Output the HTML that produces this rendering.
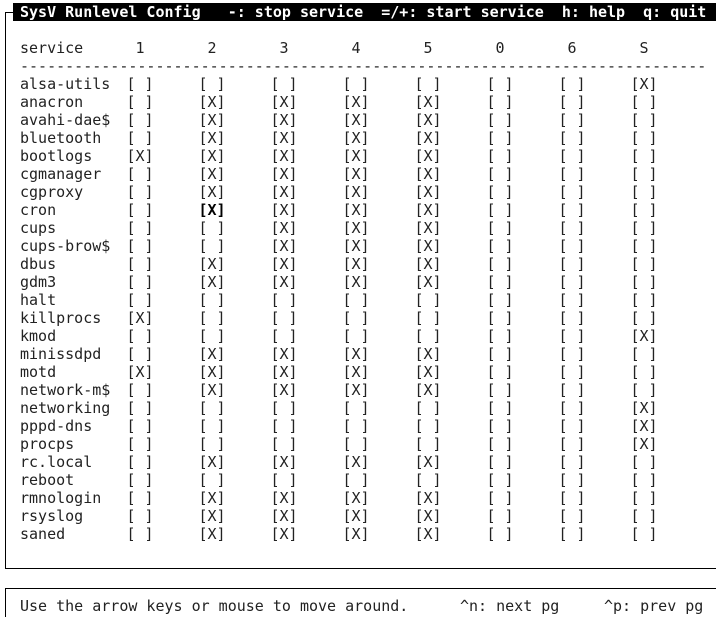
<!DOCTYPE html>
<html><head><meta charset="utf-8">
<style>
html,body{margin:0;padding:0;background:#fff;}
#root{position:relative;width:716px;height:617px;overflow:hidden;background:#fff;font-family:"DejaVu Sans Mono","Liberation Mono",monospace;font-size:15px;color:#222;}
.t{position:absolute;white-space:pre;line-height:18px;height:18px;}
#titlebar{position:absolute;left:13px;top:3px;width:703px;height:18px;background:#000;}
#title{color:#fff;font-weight:bold;left:20px;top:3px;}
#mainbox{position:absolute;left:5px;top:12px;width:720px;height:557px;border:1px solid #000;box-sizing:border-box;}
#footbox{position:absolute;left:5px;top:588px;width:720px;height:40px;border:1px solid #000;box-sizing:border-box;}
</style></head>
<body>
<div id="root">
<div id="mainbox"></div>
<div id="titlebar"></div>
<div class="t" id="title">SysV Runlevel Config   -: stop service  =/+: start service  h: help  q: quit</div>
<div id="footbox"></div>
<div class="t" style="left:20px;top:597px">Use the arrow keys or mouse to move around.</div>
<div class="t" style="left:460px;top:597px">^n: next pg</div>
<div class="t" style="left:604px;top:597px">^p: prev pg</div>
</div>
<script>
const runlevels=["1","2","3","4","5","0","6","S"];
const services=["alsa-utils","anacron","avahi-dae$","bluetooth","bootlogs","cgmanager","cgproxy","cron","cups","cups-brow$","dbus","gdm3","halt","killprocs","kmod","minissdpd","motd","network-m$","networking","pppd-dns","procps","rc.local","reboot","rmnologin","rsyslog","saned"];
const states=[
"00000001","01111000","01111000","01111000","11111000","01111000","01111000","01111000",
"00111000","00111000","01111000","01111000","00000000","10000000","00000001","01111000",
"11111000","01111000","00000001","00000001","00000001","01111000","00000000","01111000",
"01111000","01111000"];
const cursorRow=7, cursorCol=1;
const root=document.getElementById('root');
function colX(i){return 140+i*72;}
function rowY(r){return 75+r*18;}
function add(txt,left,top,name,inter,bold){
  const d=document.createElement('div');
  d.className='t';
  d.textContent=txt;
  d.style.left=left+'px';d.style.top=top+'px';
  if(bold){d.style.fontWeight='bold';d.style.color='#000';}
  
  
  root.appendChild(d);
  return d;
}
add('service',20,39,'service-header','false');
runlevels.forEach((r,i)=>{add(r,colX(i)-4.5,39,'runlevel-header-'+r,'false');});
add('-'.repeat(76),20,57,'header-separator','false');
services.forEach((s,r)=>{
  add(s,20,rowY(r),'service-name-'+s.replace(/[^a-z0-9]/g,''),'false');
  runlevels.forEach((lv,i)=>{
    const on=states[r][i]==='1';
    add(on?'[X]':'[ ]',colX(i)-13.5,rowY(r),'checkbox-'+s.replace(/[^a-z0-9]/g,'')+'-'+lv,'true',r===cursorRow&&i===cursorCol);
  });
});
</script>
</body></html>
